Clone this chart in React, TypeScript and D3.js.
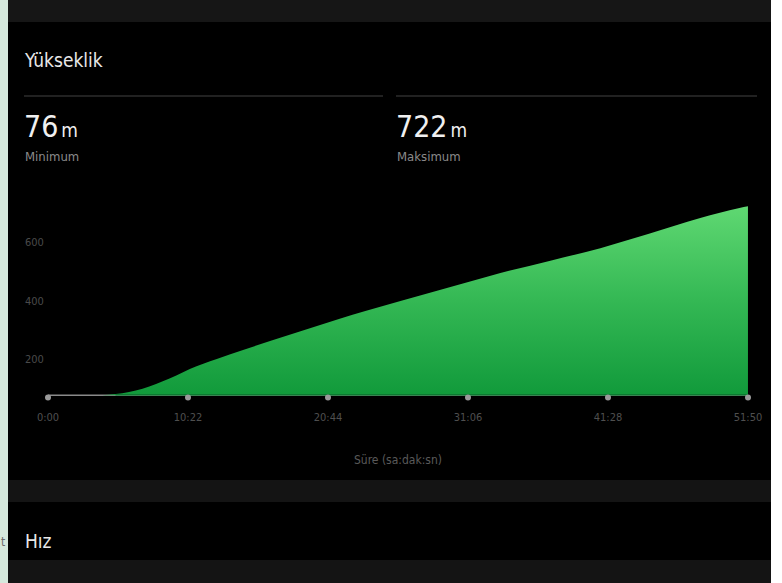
import React from "react";
import * as d3 from "d3";

const W = 782;
const H = 583;

// elapsed time (minutes) and elevation (m)
const timeMin = [0, 2, 3.5, 4.5, 5.5, 6.5, 7.5, 8.5, 9.5, 10.5, 12.5, 14.5, 16.5, 18.7, 21.6, 23.5, 26.1, 29.8, 33.5, 37.2, 40.9, 44.5, 48.3, 51.2, 51.83];
const elevation = [76, 76, 76, 78, 83, 92, 106, 124, 144, 166, 200, 232, 262, 295, 338, 364, 398, 446, 494, 536, 579, 628, 682, 716, 722];

const yTicks = [200, 400, 600];
const xTickSec = [0, 622, 1244, 1866, 2488, 3110];
const xTickLabels = ["0:00", "10:22", "20:44", "31:06", "41:28", "51:50"];

const minVal = 76;
const maxVal = 722;

const FONT = "'Liberation Sans Narrow', 'DejaVu Sans Condensed', 'Roboto', sans-serif";

export default function App() {
  const x = d3.scaleLinear().domain([0, 3110]).range([48, 748]);
  const y = d3.scaleLinear().domain([0, 600]).range([417.5, 242]);
  const data = timeMin.map((t, i) => ({ t: t * 60, v: elevation[i] }));
  const area = d3
    .area<{ t: number; v: number }>()
    .x((d) => x(d.t))
    .y0(y(minVal))
    .y1((d) => y(d.v))
    .curve(d3.curveMonotoneX);

  return (
    <div style={{ position: "absolute", left: 0, top: 0 }}>
      <svg width={W} height={H} style={{ display: "block" }}>
        <defs>
          <linearGradient id="g" gradientUnits="userSpaceOnUse" x1="0" y1={y(maxVal)} x2="0" y2={y(minVal)}>
            <stop offset="0" stopColor="#5fd872" />
            <stop offset="0.5" stopColor="#34b854" />
            <stop offset="1" stopColor="#119a3b" />
          </linearGradient>
        </defs>
        <rect x={0} y={0} width={W} height={H} fill="#ffffff" />
        <rect x={0} y={0} width={8} height={H} fill="#d5e8dc" />
        <text x={1} y={546} fontFamily={FONT} fontSize={12} fill="#6a6a6a">t</text>
        <rect x={8} y={0} width={763} height={H} fill="#000000" />
        <rect x={8} y={0} width={763} height={22} fill="#161616" />
        <rect x={8} y={480} width={763} height={22} fill="#141414" />
        <rect x={8} y={560} width={763} height={23} fill="#141414" />

        <text x={25} y={67} fontFamily={FONT} fontSize={19} fill="#e8e8e8">Yükseklik</text>
        <line x1={24} x2={383} y1={96} y2={96} stroke="#2c2c2c" strokeWidth={1.5} />
        <line x1={396} x2={757} y1={96} y2={96} stroke="#2c2c2c" strokeWidth={1.5} />

        <text x={24} y={137} fontFamily={FONT} fill="#f0f0f0">
          <tspan fontSize={30}>76</tspan>
          <tspan fontSize={19} dx={3}>m</tspan>
        </text>
        <text x={25} y={161} fontFamily={FONT} fontSize={13} fill="#8a8a8a">Minimum</text>
        <text x={396} y={137} fontFamily={FONT} fill="#f0f0f0">
          <tspan fontSize={30}>722</tspan>
          <tspan fontSize={19} dx={3}>m</tspan>
        </text>
        <text x={397} y={161} fontFamily={FONT} fontSize={13} fill="#8a8a8a">Maksimum</text>

        {yTicks.map((t) => (
          <text key={t} x={25} y={y(t) + 4} fontFamily={FONT} fontSize={11} fill="#4a4a4a">
            {t}
          </text>
        ))}

        <line x1={x(0)} x2={x(3110)} y1={y(minVal)} y2={y(minVal)} stroke="#8a8a8a" strokeWidth={1.5} />
        <path d={area(data) || ""} fill="url(#g)" />
        <line x1={x(300)} x2={x(3110)} y1={y(minVal) - 0.5} y2={y(minVal) - 0.5} stroke="#0b7a30" strokeWidth={1.5} />

        {xTickSec.map((s, i) => (
          <g key={s}>
            <circle cx={x(s)} cy={397.5} r={3} fill="#9a9a9a" />
            <text x={x(s)} y={421} textAnchor="middle" fontFamily={FONT} fontSize={11} fill="#4f4f4f">
              {xTickLabels[i]}
            </text>
          </g>
        ))}
        <text x={398} y={464} textAnchor="middle" fontFamily={FONT} fontSize={12} fill="#5a5a5a">
          Süre (sa:dak:sn)
        </text>

        <text x={25} y={548} fontFamily={FONT} fontSize={19} fill="#e8e8e8">Hız</text>
      </svg>
    </div>
  );
}
